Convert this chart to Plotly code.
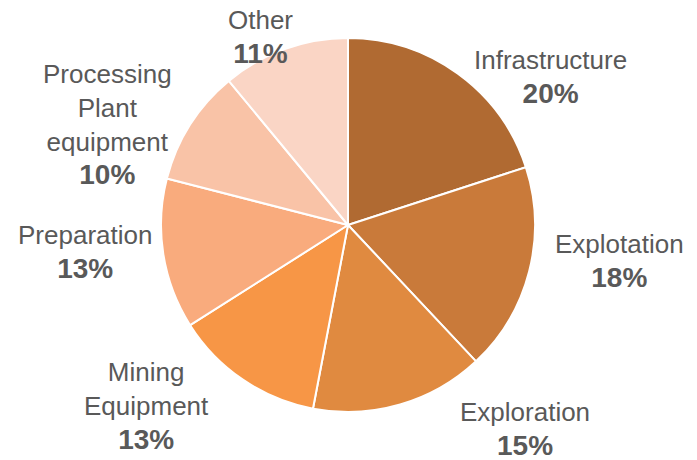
import plotly.graph_objects as go

categories = ["Infrastructure", "Explotation", "Exploration", "Mining<br>Equipment",
              "Preparation", "Processing<br>Plant<br>equipment", "Other"]
values = [20, 18, 15, 13, 13, 10, 11]
colors = ["#B06A32", "#C97A3A", "#E08A40", "#F79646", "#F9AB7D", "#F9C3A7", "#FAD5C5"]

# label block centers in page pixels (x, y from top) – layout only
label_px = [(550, 77), (619, 261), (525, 429), (146, 406), (85, 252), (107, 124), (260, 37)]

W, H = 697, 460
OFF = 8  # page body margin
cx, cy, r = 348 - OFF, 225 - OFF, 187

fig = go.Figure(go.Pie(
    labels=categories,
    values=values,
    sort=False,
    direction="clockwise",
    rotation=0,
    marker=dict(colors=colors, line=dict(color="white", width=2)),
    textinfo="none",
    hoverinfo="label+percent",
    domain=dict(x=[(cx - r) / W, (cx + r) / W], y=[(H - cy - r) / H, (H - cy + r) / H]),
    showlegend=False,
))

total = sum(values)
for cat, v, (px, py) in zip(categories, values, label_px):
    pct = round(100 * v / total)
    fig.add_annotation(
        x=(px - OFF) / W, y=1 - (py - OFF) / H, xref="paper", yref="paper",
        xanchor="center", yanchor="middle",
        text=f"{cat}<br><span style='font-size:28px'><b>{pct}%</b></span>",
        showarrow=False, align="center",
        font=dict(family="Liberation Sans, Arial, sans-serif", size=26, color="#595959"),
    )

fig.update_layout(
    width=W, height=H,
    margin=dict(l=0, r=0, t=0, b=0),
    paper_bgcolor="white", plot_bgcolor="white",
)
fig.write_html("out.html")
